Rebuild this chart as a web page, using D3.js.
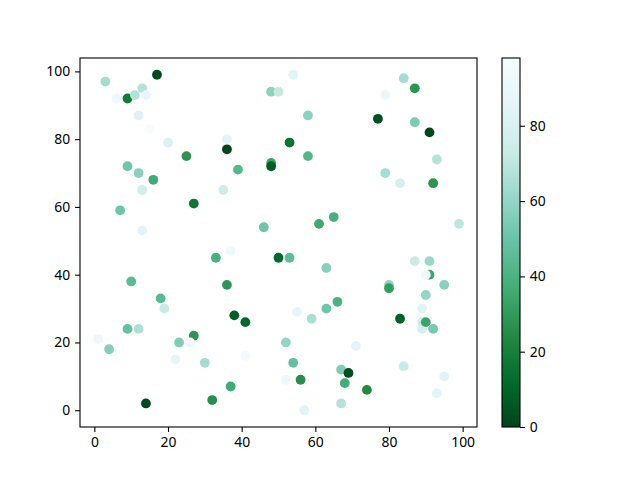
<!DOCTYPE html>
<html>
<head>
<meta charset="utf-8">
<script src="https://cdn.jsdelivr.net/npm/d3@7"></script>
<style>
  body { margin: 0; background: #fff; }
  text { font-family: "Noto Sans", "DejaVu Sans", sans-serif; font-size: 13.9px; fill: #000; }
</style>
</head>
<body>
<div id="chart"></div>
<script>
// Data
const xs = [17, 9, 25, 16, 27, 3, 13, 11, 14, 6, 12, 15, 20, 9, 12, 13, 7, 13,
  54, 48, 50, 58, 36, 36, 53, 58, 48, 48, 39, 35, 46, 61, 65,
  84, 87, 79, 77, 87, 91, 93, 79, 83, 92, 99,
  33, 10, 18, 19, 9, 12, 1, 4, 27, 23, 26, 22, 30, 14, 32,
  37, 50, 53, 63, 36, 38, 41, 55, 59, 63, 66, 52, 41, 54, 52, 56, 37, 57, 67, 69, 68, 67,
  87, 91, 91, 90, 80, 80, 95, 90, 89, 83, 89, 89, 90, 92, 71, 84, 95, 74, 93];
const ys = [99, 92, 75, 68, 61, 97, 95, 93, 93, 92, 87, 83, 79, 72, 70, 65, 59, 53,
  99, 94, 94, 87, 80, 77, 79, 75, 73, 72, 71, 65, 54, 55, 57,
  98, 95, 93, 86, 85, 82, 74, 70, 67, 67, 55,
  45, 38, 33, 30, 24, 24, 21, 18, 22, 20, 20, 15, 14, 2, 3,
  47, 45, 45, 42, 37, 28, 26, 29, 27, 30, 32, 20, 16, 14, 9, 9, 7, 0, 12, 11, 8, 2,
  44, 44, 40, 40, 37, 36, 37, 34, 30, 27, 24, 26, 26, 24, 19, 13, 10, 6, 5];
const cs = [2, 18, 28, 36, 17, 64, 68, 67, 88, 91, 82, 98, 80, 51, 57, 76, 51, 85,
  84, 58, 72, 58, 85, 0, 15, 42, 34, 7, 43, 75, 51, 35, 39,
  64, 28, 90, 4, 54, 1, 68, 64, 78, 28, 70,
  39, 45, 44, 73, 48, 66, 91, 56, 28, 55, 91, 88, 64, 2, 26,
  92, 12, 46, 57, 28, 8, 11, 87, 66, 51, 40, 60, 94, 48, 91, 26, 36, 84, 55, 3, 37, 68,
  73, 61, 34, 92, 59, 31, 57, 60, 84, 9, 77, 75, 34, 53, 86, 73, 85, 24, 85];
const xTicks = [0, 20, 40, 60, 80, 100];
const yTicks = [0, 20, 40, 60, 80, 100];
const cTicks = [0, 20, 40, 60, 80];

const W = 640, H = 480;
const ax = { left: 80, right: 477, top: 58, bottom: 427 };
const cb = { left: 502, right: 520, top: 58, bottom: 427 };

const svg = d3.select("#chart").append("svg")
  .attr("width", W)
  .attr("height", H);

const x = d3.scaleLinear().domain([-3.9, 103.9]).range([ax.left, ax.right]);
const y = d3.scaleLinear().domain([-4.95, 103.95]).range([ax.bottom, ax.top]);

const cMin = d3.min(cs), cMax = d3.max(cs);
// BuGn reversed, colorbrewer stops as in matplotlib
const stops = ["#00441b", "#006d2c", "#238b45", "#41ae76", "#66c2a4", "#99d8c9", "#ccece6", "#e5f5f9", "#f7fcfd"];
const color = d3.scaleLinear()
  .domain(stops.map((d, i) => cMin + (cMax - cMin) * i / (stops.length - 1)))
  .range(stops);

// points
svg.append("g")
  .selectAll("circle")
  .data(xs.map((d, i) => ({ x: d, y: ys[i], c: cs[i] })))
  .enter().append("circle")
  .attr("cx", d => x(d.x))
  .attr("cy", d => y(d.y))
  .attr("r", 4.9)
  .style("fill", d => color(d.c));

// axes
svg.append("g")
  .attr("transform", `translate(0,${ax.bottom})`)
  .call(d3.axisBottom(x).tickValues(xTicks).tickSize(4.9).tickPadding(4.9))
  .call(g => g.select(".domain").remove());
svg.append("g")
  .attr("transform", `translate(${ax.left},0)`)
  .call(d3.axisLeft(y).tickValues(yTicks).tickSize(4.9).tickPadding(4.9))
  .call(g => g.select(".domain").remove());

svg.selectAll(".tick line").attr("stroke-width", 1.1);
svg.selectAll(".tick text").style("font-size", "13.9px");

svg.append("rect")
  .attr("x", ax.left).attr("y", ax.top)
  .attr("width", ax.right - ax.left).attr("height", ax.bottom - ax.top)
  .attr("fill", "none").attr("stroke", "#000").attr("stroke-width", 1.1);

// colorbar as a vertical gradient built from the colour scale
const grad = svg.append("defs").append("linearGradient")
  .attr("id", "cbar")
  .attr("x1", 0).attr("y1", 1).attr("x2", 0).attr("y2", 0);
grad.selectAll("stop")
  .data(color.domain())
  .enter().append("stop")
  .attr("offset", d => (d - cMin) / (cMax - cMin))
  .attr("stop-color", d => color(d));

const cy = d3.scaleLinear().domain([cMin, cMax]).range([cb.bottom, cb.top]);
svg.append("rect")
  .attr("x", cb.left).attr("y", cy(cMax))
  .attr("width", cb.right - cb.left).attr("height", cy(cMin) - cy(cMax))
  .style("fill", "url(#cbar)")
  .attr("stroke", "#000").attr("stroke-width", 1.1);

const cAxis = svg.append("g")
  .attr("transform", `translate(${cb.right},0)`)
  .call(d3.axisRight(cy).tickValues(cTicks).tickSize(4.9).tickPadding(4.9))
  .call(g => g.select(".domain").remove());
cAxis.selectAll(".tick line").attr("stroke-width", 1.1);
cAxis.selectAll(".tick text").style("font-size", "13.9px");
</script>
</body>
</html>
